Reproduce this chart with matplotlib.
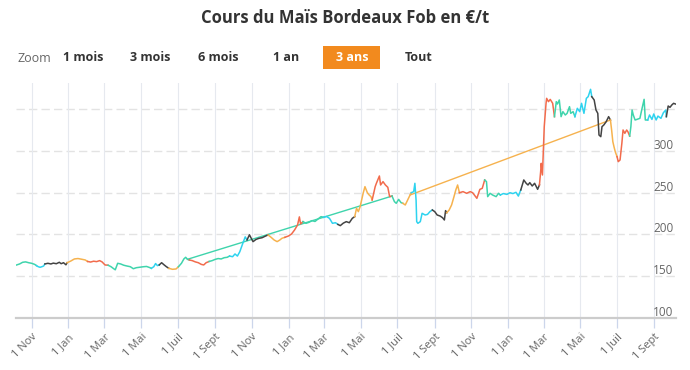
import matplotlib
matplotlib.use('Agg')
import matplotlib.pyplot as plt
import numpy as np
import pandas as pd
from matplotlib.patches import Rectangle

plt.rcParams['font.family'] = ['Open Sans', 'DejaVu Sans']

# prix journaliers relevés (date, €/t), par campagne
crop_2019 = [
  ('2019-10-07', 163.3), ('2019-10-12', 164.5), ('2019-10-17', 166.5), ('2019-10-22', 167.0),
  ('2019-10-27', 166.0), ('2019-11-01', 165.3), ('2019-11-06', 164.0),
  ('2019-11-09', 162.5), ('2019-11-12', 161.2), ('2019-11-15', 160.5), ('2019-11-18', 161.2),
  ('2019-11-21', 162.1),
  ('2019-11-23', 164.5), ('2019-11-28', 165.3), ('2019-12-03', 164.5), ('2019-12-07', 165.5),
  ('2019-12-12', 164.8), ('2019-12-17', 166.5), ('2019-12-20', 164.8), ('2019-12-24', 166.0),
  ('2019-12-28', 163.5),
  ('2019-12-30', 166.0), ('2020-01-05', 168.0), ('2020-01-11', 170.5), ('2020-01-17', 171.0),
  ('2020-01-23', 170.2), ('2020-01-29', 169.3),
  ('2020-02-02', 167.5), ('2020-02-07', 166.8), ('2020-02-12', 167.8), ('2020-02-17', 167.3),
  ('2020-02-22', 168.5), ('2020-02-26', 167.0), ('2020-03-02', 163.3),
  ('2020-03-07', 163.0), ('2020-03-12', 161.2), ('2020-03-16', 159.0), ('2020-03-19', 157.5),
  ('2020-03-23', 165.3), ('2020-03-28', 164.5), ('2020-04-02', 163.0), ('2020-04-07', 162.1),
  ('2020-04-13', 161.2), ('2020-04-18', 158.8), ('2020-04-23', 160.0), ('2020-04-28', 160.5),
  ('2020-05-05', 161.2), ('2020-05-10', 161.5), ('2020-05-14', 160.5),
  ('2020-05-18', 159.3), ('2020-05-22', 161.2), ('2020-05-25', 165.0), ('2020-05-28', 162.5),
  ('2020-05-31', 163.3), ('2020-06-04', 166.0), ('2020-06-08', 163.5), ('2020-06-12', 161.2),
  ('2020-06-16', 159.3), ('2020-06-22', 158.1), ('2020-06-28', 158.5),
  ('2020-07-02', 161.2), ('2020-07-07', 165.3), ('2020-07-11', 170.5), ('2020-07-14', 172.5),
  ('2020-07-17', 170.1),
]
crop_2020 = [
  ('2020-07-20', 169.3), ('2020-07-25', 168.5), ('2020-07-30', 167.0), ('2020-08-04', 166.0),
  ('2020-08-09', 164.0), ('2020-08-13', 163.3), ('2020-08-17', 166.0),
  ('2020-08-22', 167.5), ('2020-08-27', 168.5), ('2020-09-01', 170.0), ('2020-09-06', 171.0),
  ('2020-09-11', 170.5), ('2020-09-16', 172.0), ('2020-09-21', 172.5),
  ('2020-09-25', 174.0), ('2020-09-30', 173.2), ('2020-10-04', 176.5), ('2020-10-08', 174.0),
  ('2020-10-12', 179.2), ('2020-10-16', 187.3), ('2020-10-21', 197.0),
  ('2020-10-24', 193.3), ('2020-10-28', 199.5), ('2020-10-31', 195.3), ('2020-11-03', 191.3),
  ('2020-11-08', 194.0), ('2020-11-13', 195.3), ('2020-11-18', 196.0), ('2020-11-24', 198.1),
  ('2020-11-28', 199.3), ('2020-12-03', 196.5), ('2020-12-08', 193.3), ('2020-12-13', 191.3),
  ('2020-12-17', 193.0), ('2020-12-21', 195.3),
  ('2020-12-26', 196.5), ('2021-01-01', 198.1), ('2021-01-06', 200.5), ('2021-01-11', 205.3),
  ('2021-01-16', 211.3), ('2021-01-19', 221.0), ('2021-01-21', 212.5),
  ('2021-01-25', 215.3), ('2021-01-30', 213.3), ('2021-02-04', 214.5), ('2021-02-09', 216.5),
  ('2021-02-14', 215.5), ('2021-02-19', 218.5), ('2021-02-24', 221.3),
  ('2021-02-28', 220.5), ('2021-03-05', 221.5), ('2021-03-10', 219.3), ('2021-03-15', 213.3),
  ('2021-03-20', 214.0),
  ('2021-03-24', 212.0), ('2021-03-28', 210.5), ('2021-04-02', 213.5), ('2021-04-07', 215.3),
  ('2021-04-12', 214.0), ('2021-04-17', 219.3),
  ('2021-04-21', 221.3), ('2021-04-24', 231.3), ('2021-04-27', 227.3), ('2021-04-30', 233.3),
  ('2021-05-05', 249.3), ('2021-05-08', 257.3), ('2021-05-12', 250.0), ('2021-05-15', 247.3),
  ('2021-05-18', 245.3),
  ('2021-05-20', 241.3), ('2021-05-25', 257.3), ('2021-05-27', 261.3), ('2021-06-01', 270.1),
  ('2021-06-03', 259.3), ('2021-06-07', 263.3), ('2021-06-11', 259.3), ('2021-06-15', 256.5),
  ('2021-06-18', 245.3),
  ('2021-06-22', 246.0), ('2021-06-26', 239.3), ('2021-06-29', 237.3), ('2021-07-03', 242.0),
  ('2021-07-07', 238.1),
  ('2021-07-10', 237.3), ('2021-07-14', 235.3), ('2021-07-18', 241.3), ('2021-07-22', 247.3),
]
crop_2021 = [
  ('2021-07-24', 250.0), ('2021-07-28', 251.3), ('2021-07-30', 261.3), ('2021-08-01', 241.0),
  ('2021-08-02', 215.3), ('2021-08-04', 213.3), ('2021-08-08', 215.3), ('2021-08-11', 225.3),
  ('2021-08-16', 223.3), ('2021-08-20', 224.0), ('2021-08-24', 227.3),
  ('2021-08-28', 229.3), ('2021-09-01', 227.3), ('2021-09-05', 223.3), ('2021-09-10', 222.0),
  ('2021-09-14', 220.0), ('2021-09-17', 217.3), ('2021-09-19', 228.5),
  ('2021-09-21', 226.0), ('2021-09-25', 229.3), ('2021-09-29', 235.3), ('2021-10-03', 245.3),
  ('2021-10-06', 253.3), ('2021-10-09', 259.3),
  ('2021-10-12', 250.0), ('2021-10-18', 251.3), ('2021-10-24', 249.3), ('2021-10-30', 251.3),
  ('2021-11-03', 250.0), ('2021-11-10', 243.3), ('2021-11-15', 254.0), ('2021-11-19', 255.3),
  ('2021-11-23', 265.3), ('2021-11-26', 263.3), ('2021-11-28', 245.3), ('2021-12-02', 249.3),
  ('2021-12-06', 247.3), ('2021-12-12', 245.3), ('2021-12-16', 249.3),
  ('2021-12-19', 247.3), ('2021-12-24', 249.0), ('2021-12-30', 248.0), ('2022-01-04', 250.0),
  ('2022-01-09', 249.0), ('2022-01-14', 250.5), ('2022-01-18', 246.0),
  ('2022-01-22', 253.3), ('2022-01-27', 265.3), ('2022-01-31', 261.3), ('2022-02-03', 259.3),
  ('2022-02-06', 262.1), ('2022-02-10', 258.1), ('2022-02-14', 261.3), ('2022-02-19', 254.1),
  ('2022-02-22', 259.3), ('2022-02-24', 275.0), ('2022-02-25', 285.3), ('2022-02-27', 271.3),
  ('2022-03-02', 329.3), ('2022-03-05', 357.3), ('2022-03-06', 363.3), ('2022-03-09', 359.3),
  ('2022-03-12', 362.0), ('2022-03-16', 357.3),
  ('2022-03-19', 341.3), ('2022-03-22', 359.3), ('2022-03-24', 356.5), ('2022-03-27', 361.3),
  ('2022-03-30', 341.3), ('2022-04-02', 347.3), ('2022-04-06', 343.3), ('2022-04-09', 345.3),
  ('2022-04-13', 353.3), ('2022-04-15', 345.3), ('2022-04-19', 347.3),
  ('2022-04-22', 341.3), ('2022-04-26', 351.3), ('2022-04-30', 347.3), ('2022-05-03', 357.3),
  ('2022-05-07', 345.3), ('2022-05-11', 363.3), ('2022-05-14', 365.3), ('2022-05-18', 374.1),
  ('2022-05-20', 365.3), ('2022-05-24', 361.3), ('2022-05-27', 349.3), ('2022-05-30', 345.3),
  ('2022-06-01', 319.3), ('2022-06-04', 317.3), ('2022-06-06', 329.3), ('2022-06-09', 331.3),
  ('2022-06-13', 335.3), ('2022-06-17', 341.3),
  ('2022-06-20', 337.3), ('2022-06-22', 325.3), ('2022-06-24', 311.3), ('2022-06-26', 305.0),
  ('2022-06-28', 299.3),
  ('2022-07-01', 293.3), ('2022-07-03', 287.3), ('2022-07-06', 289.3), ('2022-07-09', 309.3),
  ('2022-07-11', 325.3), ('2022-07-14', 321.3), ('2022-07-17', 325.3), ('2022-07-19', 323.3),
  ('2022-07-22', 318.0), ('2022-07-24', 329.3), ('2022-07-26', 349.3), ('2022-07-28', 343.3),
  ('2022-07-31', 337.3), ('2022-08-03', 338.0), ('2022-08-08', 339.3), ('2022-08-11', 349.3),
  ('2022-08-15', 362.1), ('2022-08-17', 337.3),
  ('2022-08-21', 337.3), ('2022-08-24', 343.3), ('2022-08-28', 338.0), ('2022-08-31', 344.5),
  ('2022-09-04', 337.3), ('2022-09-07', 342.0), ('2022-09-12', 339.3), ('2022-09-16', 346.0),
  ('2022-09-20', 349.3),
  ('2022-09-21', 341.3), ('2022-09-24', 354.1), ('2022-09-27', 352.5), ('2022-09-30', 355.3),
  ('2022-10-03', 357.3), ('2022-10-06', 356.5),
]

# début de chaque tronçon coloré
seg_start = ['2019-10-07', '2019-11-09', '2019-11-23', '2019-12-30', '2020-02-02', '2020-03-07',
             '2020-05-18', '2020-05-31', '2020-06-16', '2020-07-02', '2020-07-20', '2020-08-22',
             '2020-09-25', '2020-10-24', '2020-11-28', '2020-12-26', '2021-01-25', '2021-02-28',
             '2021-03-24', '2021-04-21', '2021-05-20', '2021-06-22', '2021-07-10', '2021-07-24',
             '2021-08-28', '2021-09-21', '2021-10-12', '2021-11-23', '2021-12-19', '2022-01-22',
             '2022-02-22', '2022-03-19', '2022-04-22', '2022-05-20', '2022-06-20', '2022-07-01',
             '2022-07-22', '2022-08-21', '2022-09-21']
seg_color = ['t', 'c', 'b', 'o', 'r', 't',
             'c', 'b', 'o', 't', 'r', 't',
             'c', 'b', 'o', 'r', 't', 'c',
             'b', 'o', 'r', 't', 'o', 'c',
             'b', 'o', 'r', 't', 'c', 'b',
             'r', 't', 'c', 'b', 'o', 'r',
             't', 'c', 'b']

# liaisons droites entre campagnes
link_teal_dates = ['2020-07-17', '2021-06-22']
link_teal_prices = [170.1, 246.0]
link_orange_dates = ['2021-07-22', '2022-06-20']
link_orange_prices = [247.3, 337.3]

palette = {'t': '#3fd4ac', 'c': '#2ed3ef', 'b': '#434343', 'o': '#f6b24e', 'r': '#f26b4c'}

y_ticks = [100, 150, 200, 250, 300, 350]
y_labels = [100, 150, 200, 250, 300]
tick_dates = pd.date_range('2019-11-01', '2022-09-01', freq='2MS')
tick_names = ['1 Nov', '1 Jan', '1 Mar', '1 Mai', '1 Juil', '1 Sept'] * 3

buttons = ['1 mois', '3 mois', '6 mois', '1 an', '3 ans', 'Tout']
selected = '3 ans'

df = pd.DataFrame(crop_2019 + crop_2020 + crop_2021, columns=['date', 'price'])
df['date'] = pd.to_datetime(df['date'])
starts = pd.to_datetime(seg_start).values
df['seg'] = np.searchsorted(starts, df['date'].values, side='right') - 1

W, H = 690, 370
fig = plt.figure(figsize=(W / 100, H / 100), dpi=100)
ax = fig.add_axes([16 / W, 1 - 317.7 / H, 660 / W, (317.7 - 83) / H])

# grille
for v in y_ticks[1:]:
  ax.axhline(v, color='#e3e3e3', lw=1, dashes=(6, 3), zorder=0)
ax.set_xticks(tick_dates)
ax.set_xticklabels(tick_names, rotation=45, ha='right', rotation_mode='anchor')
ax.grid(axis='x', color='#e6e9ef', lw=0.8, zorder=0)
ax.tick_params(axis='x', length=7, width=0.9, color='#ccd6eb', labelcolor='#666666',
               labelsize=8, pad=3)
ax.set_yticks([])

for i, key in enumerate(seg_color):
  idx = np.where(df['seg'] == i)[0]
  if len(idx) == 0:
    continue
  if i < len(seg_color) - 1:
    idx = np.append(idx, idx[-1] + 1)
  ax.plot(df['date'].iloc[idx], df['price'].iloc[idx], color=palette[key], lw=1.1, zorder=3)

ax.plot(pd.to_datetime(link_teal_dates), link_teal_prices, color=palette['t'], lw=1.0, zorder=2)
ax.plot(pd.to_datetime(link_orange_dates), link_orange_prices, color=palette['o'], lw=1.0, zorder=2)

for v in y_labels:
  ax.annotate(str(v), xy=(1, v), xycoords=ax.get_yaxis_transform(), xytext=(-2, 1.5),
              textcoords='offset points', ha='right', va='baseline', color='#666666', fontsize=8.5)

ax.set_xlim(pd.Timestamp('2019-10-06'), pd.Timestamp('2022-10-07'))
ax.set_ylim(100, 381.7)
for s in ['top', 'left', 'right']:
  ax.spines[s].set_visible(False)
ax.spines['bottom'].set_color('#cccccc')
ax.spines['bottom'].set_linewidth(1.6)

# titre et boutons de zoom
fig.text(0.5, 1 - 18 / H, 'Cours du Maïs Bordeaux Fob en €/t', ha='center', va='center',
         fontsize=12, fontweight='bold', color='#333333')
fig.text(17 / W, 1 - 58 / H, 'Zoom', ha='left', va='center', fontsize=9, color='#666666')
btn_x = [83, 150, 218, 286, 352, 419]
for label, bx in zip(buttons, btn_x):
  if label == selected:
    fig.patches.append(Rectangle(((bx - 29) / W, 1 - 69 / H), 57 / W, 23 / H,
                                 transform=fig.transFigure, color='#f28a1e', lw=0))
    fig.text(bx / W, 1 - 57.5 / H, label, ha='center', va='center', fontsize=9,
             fontweight='bold', color='white')
  else:
    fig.text(bx / W, 1 - 57.5 / H, label, ha='center', va='center', fontsize=9,
             fontweight='bold', color='#333333')

fig.savefig('out.png', dpi=100)
